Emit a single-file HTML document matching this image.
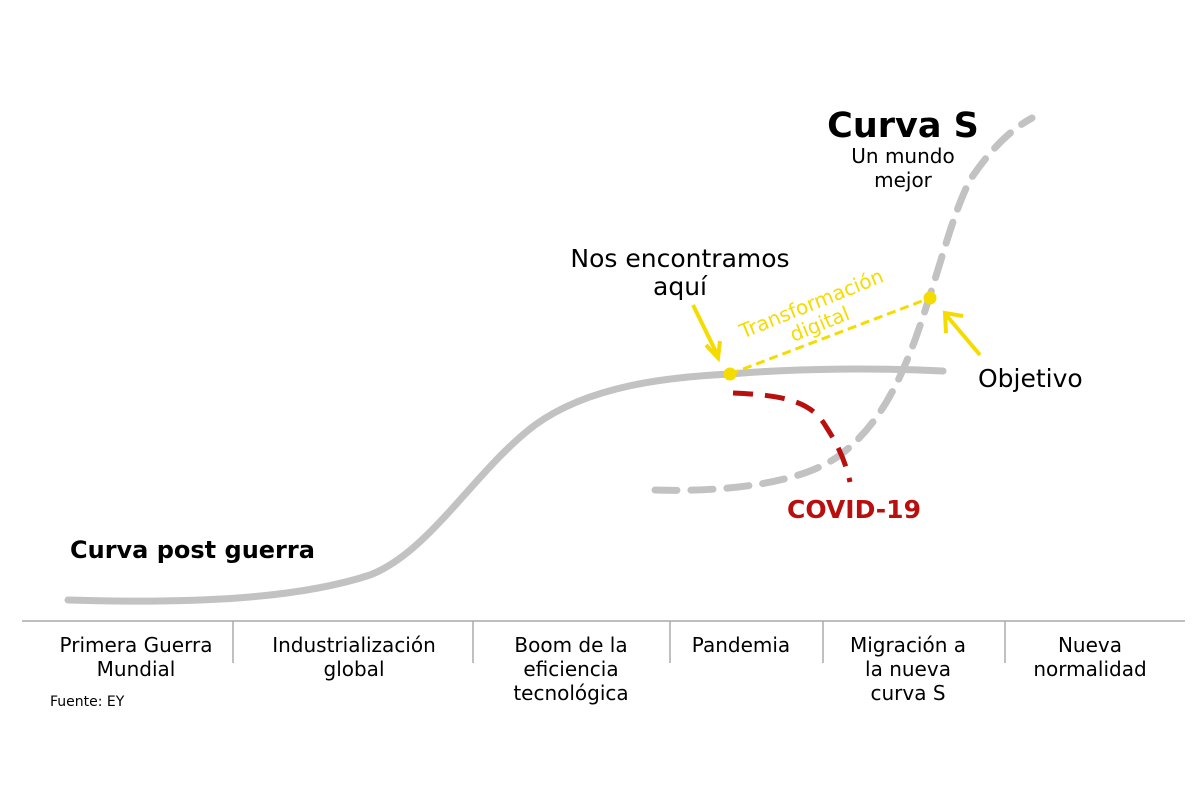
<!DOCTYPE html>
<html><head><meta charset="utf-8"><style>
html,body{margin:0;padding:0;background:#fff}
svg{display:block}
text{font-family:"DejaVu Sans","Liberation Sans",sans-serif}
</style></head><body>
<svg width="1200" height="800" viewBox="0 0 1200 800">
<rect width="1200" height="800" fill="#fff"/>
<line x1="22" y1="621" x2="1185" y2="621" stroke="#aaa" stroke-width="1.5"/>
<g stroke="#aaa" stroke-width="1.5">
<line x1="233" y1="621" x2="233" y2="663"/><line x1="473" y1="621" x2="473" y2="663"/>
<line x1="670" y1="621" x2="670" y2="663"/><line x1="823" y1="621" x2="823" y2="663"/>
<line x1="1005" y1="621" x2="1005" y2="663"/>
</g>
<path d="M68,600 C200,604 300,598 370,575 C430,552 475,470 535,425 C590,385 670,377 730,374 C800,368 880,368 943,371" fill="none" stroke="#c2c2c2" stroke-width="7" stroke-linecap="round"/>
<path d="M655,490 C720,492 800,485 840,455 C880,425 900,380 915,340 C940,270 950,220 970,180 C990,150 1010,130 1032,118" fill="none" stroke="#c2c2c2" stroke-width="7" stroke-dasharray="22 14" stroke-linecap="round"/>
<path d="M733,393 C780,395 810,400 825,425 C838,445 845,460 850,482" fill="none" stroke="#b80f0f" stroke-width="5" stroke-dasharray="20 12"/>
<line x1="730" y1="374" x2="930" y2="298" stroke="#f5dc00" stroke-width="3" stroke-dasharray="9 5"/>
<circle cx="730" cy="374" r="6.5" fill="#f5dc00"/><circle cx="930" cy="298" r="6.5" fill="#f5dc00"/>
<g stroke="#f5dc00" stroke-width="4" fill="none">
<line x1="693" y1="305" x2="718" y2="356"/><polyline points="706,345 718,358 720,341"/>
<line x1="980" y1="355" x2="947" y2="316"/><polyline points="946,333 945,313 963,316"/>
</g>
<text x="903" y="137" font-size="35" font-weight="bold" text-anchor="middle">Curva S</text>
<text x="903" y="163" font-size="20" text-anchor="middle">Un mundo</text>
<text x="903" y="187" font-size="20" text-anchor="middle">mejor</text>
<text x="680" y="267" font-size="25" text-anchor="middle">Nos encontramos</text>
<text x="680" y="295" font-size="25" text-anchor="middle">aquí</text>
<g transform="translate(814,310) rotate(-22)" fill="#f5dc00" font-size="20" text-anchor="middle">
<text x="0" y="0">Transformación</text><text x="0" y="22">digital</text></g>
<text x="978" y="387" font-size="25">Objetivo</text>
<text x="787" y="518" font-size="25" font-weight="bold" fill="#b80f0f">COVID-19</text>
<text x="70" y="558" font-size="24" font-weight="bold">Curva post guerra</text>
<g font-size="20" text-anchor="middle">
<text x="136" y="652">Primera Guerra</text><text x="136" y="676">Mundial</text>
<text x="354" y="652">Industrialización</text><text x="354" y="676">global</text>
<text x="571" y="652">Boom de la</text><text x="571" y="676">eficiencia</text><text x="571" y="700">tecnológica</text>
<text x="741" y="652">Pandemia</text>
<text x="908" y="652">Migración a</text><text x="908" y="676">la nueva</text><text x="908" y="700">curva S</text>
<text x="1090" y="652">Nueva</text><text x="1090" y="676">normalidad</text>
</g>
<text x="50" y="706" font-size="14">Fuente: EY</text>
</svg>
</body></html>
